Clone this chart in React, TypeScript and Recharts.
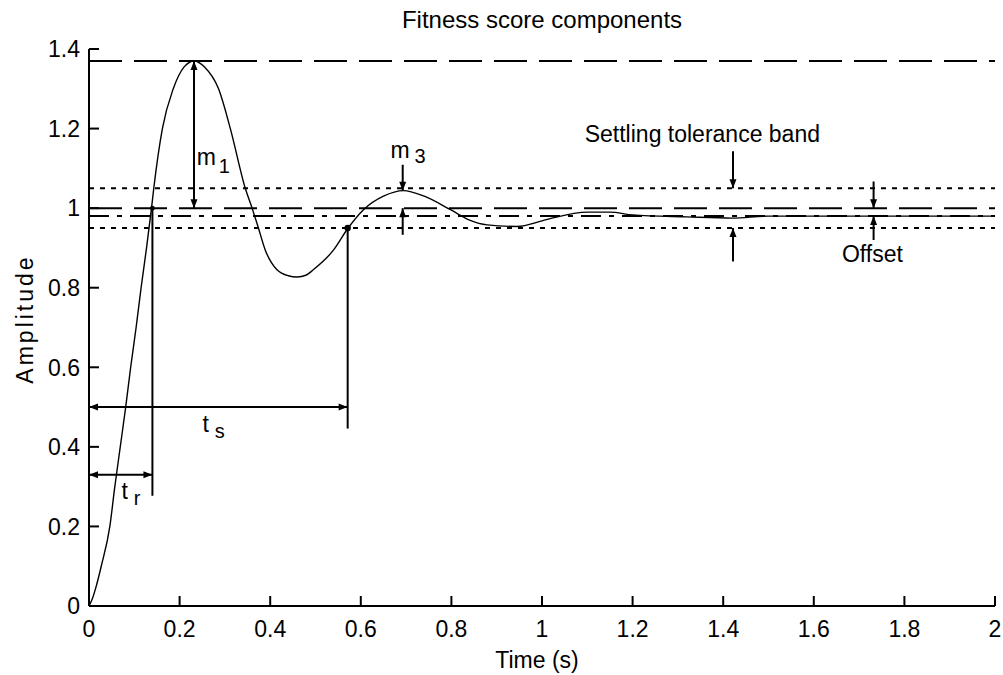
import React from 'react';
import { LineChart, Line, XAxis, YAxis, ReferenceLine, ReferenceDot } from 'recharts';

// ---- data ----
const timeValues = [
  0, 0.008, 0.016, 0.027, 0.046, 0.057, 0.069, 0.081, 0.092, 0.104, 0.115, 0.127, 0.138, 0.143,
  0.162, 0.186, 0.21, 0.232, 0.255, 0.286, 0.312, 0.345, 0.36, 0.374, 0.389, 0.415, 0.44, 0.459,
  0.48, 0.495, 0.54, 0.572, 0.606, 0.65, 0.694, 0.74, 0.798, 0.84, 0.879, 0.945, 1.0, 1.026, 1.1,
  1.15, 1.2, 1.32, 1.42, 1.5, 2.0,
];
const amplitudeValues = [
  0, 0.02, 0.05, 0.1, 0.2, 0.3, 0.4, 0.5, 0.6, 0.7, 0.8, 0.9, 1.0, 1.05,
  1.2, 1.3, 1.355, 1.37, 1.355, 1.3, 1.2, 1.05, 1.0, 0.95, 0.895, 0.845, 0.83, 0.827,
  0.832, 0.845, 0.895, 0.95, 0.996, 1.03, 1.044, 1.03, 0.996, 0.97, 0.958, 0.954, 0.968, 0.976, 0.99,
  0.99, 0.983, 0.978, 0.975, 0.98, 0.98,
];
const xTicks = [0, 0.2, 0.4, 0.6, 0.8, 1, 1.2, 1.4, 1.6, 1.8, 2];
const yTicks = [0, 0.2, 0.4, 0.6, 0.8, 1, 1.2, 1.4];
const xTickLabels = ['0', '0.2', '0.4', '0.6', '0.8', '1', '1.2', '1.4', '1.6', '1.8', '2'];
const yTickLabels = ['0', '0.2', '0.4', '0.6', '0.8', '1', '1.2', '1.4'];

const peakLevel = 1.37;
const referenceLevel = 1.0;
const finalLevel = 0.98;
const bandUpper = 1.05;
const bandLower = 0.95;
const riseTime = 0.14;
const riseArrowLevel = 0.33;
const riseLineBottom = 0.277;
const settlingTime = 0.571;
const settlingArrowLevel = 0.5;
const settlingLineBottom = 0.446;
const peakTime = 0.2318;
const secondPeakTime = 0.6925;
const secondPeak = 1.044;
const bandArrowTime = 1.4216;
const offsetArrowTime = 1.732;

const titleText = 'Fitness score components';
const xLabelText = 'Time (s)';
const yLabelText = 'Amplitude';

const chartData = timeValues.map((t, i) => ({ t, y: amplitudeValues[i] }));

const FONT = "'Liberation Sans', Arial, sans-serif";
const INK = '#000';

const BottomTick = (props: any) => {
  const { x, y, index } = props;
  return (
    <g>
      <line x1={x} x2={x} y1={y} y2={y - 10} stroke={INK} strokeWidth={2} />
      <text x={x} y={y + 31} textAnchor="middle" fontSize={23} fontFamily={FONT} fill={INK}>
        {xTickLabels[index]}
      </text>
    </g>
  );
};
const TopTick = (props: any) => {
  const { x, y } = props;
  return <line x1={x} x2={x} y1={y} y2={y + 10} stroke={INK} strokeWidth={2} />;
};
const LeftTick = (props: any) => {
  const { x, y, index } = props;
  return (
    <g>
      <line x1={x} x2={x + 10} y1={y} y2={y} stroke={INK} strokeWidth={2} />
      <text x={x - 9} y={y + 8.3} textAnchor="end" fontSize={23} fontFamily={FONT} fill={INK}>
        {yTickLabels[index]}
      </text>
    </g>
  );
};
const RightTick = (props: any) => {
  const { x, y } = props;
  return <line x1={x} x2={x - 10} y1={y} y2={y} stroke={INK} strokeWidth={2} />;
};

function arrowShape(startHead: boolean, endHead: boolean) {
  return (p: any) => {
    const { x1, y1, x2, y2 } = p;
    const dx = x2 - x1;
    const dy = y2 - y1;
    const len = Math.hypot(dx, dy) || 1;
    const ux = dx / len;
    const uy = dy / len;
    const L = 9;
    const W = 3.5;
    const head = (tx: number, ty: number, ax: number, ay: number) =>
      `M${tx},${ty} L${tx - ax * L - ay * W},${ty - ay * L + ax * W} L${tx - ax * L + ay * W},${ty - ay * L - ax * W} Z`;
    return (
      <g>
        <line x1={x1} y1={y1} x2={x2} y2={y2} stroke={INK} strokeWidth={2} />
        {endHead && <path d={head(x2, y2, ux, uy)} fill={INK} />}
        {startHead && <path d={head(x1, y1, -ux, -uy)} fill={INK} />}
      </g>
    );
  };
}

function labelShape(main: string, sub: string | null, anchor: 'start' | 'middle', subDx = 3, subDy = 7) {
  return (p: any) => (
    <text x={p.cx} y={p.cy} textAnchor={anchor} fontSize={23} fontFamily={FONT} fill={INK}>
      {main}
      {sub && (
        <tspan dx={subDx} dy={subDy} fontSize={20}>
          {sub}
        </tspan>
      )}
    </text>
  );
}

const dotShape = (r: number) => (p: any) => <circle cx={p.cx} cy={p.cy} r={r} fill={INK} />;

export default function App() {
  return (
    <div style={{ position: 'absolute', left: 0, top: 0, width: 1003, height: 675, background: '#fff' }}>
      <LineChart
        width={1003}
        height={675}
        data={chartData}
        margin={{ top: 49, right: 8, left: 0, bottom: 0 }}
      >
        <XAxis
          dataKey="t"
          type="number"
          domain={[0, 2]}
          ticks={xTicks}
          interval={0}
          height={69}
          tickSize={0}
          tickMargin={0}
          tickLine={false}
          axisLine={{ stroke: INK, strokeWidth: 2 }}
          tick={<BottomTick />}
          allowDataOverflow
        />
        <XAxis
          xAxisId="top"
          orientation="top"
          dataKey="t"
          type="number"
          domain={[0, 2]}
          ticks={xTicks}
          interval={0}
          height={0}
          tickSize={0}
          tickMargin={0}
          tickLine={false}
          axisLine={{ stroke: INK, strokeWidth: 2 }}
          tick={<TopTick />}
          allowDataOverflow
        />
        <YAxis
          type="number"
          domain={[0, 1.4]}
          ticks={yTicks}
          interval={0}
          width={89}
          tickSize={0}
          tickMargin={0}
          tickLine={false}
          axisLine={{ stroke: INK, strokeWidth: 2 }}
          tick={<LeftTick />}
          allowDataOverflow
        />
        <YAxis
          yAxisId="right"
          orientation="right"
          type="number"
          domain={[0, 1.4]}
          ticks={yTicks}
          interval={0}
          width={0}
          tickSize={0}
          tickMargin={0}
          tickLine={false}
          axisLine={{ stroke: INK, strokeWidth: 2 }}
          tick={<RightTick />}
          allowDataOverflow
        />

        <ReferenceLine y={peakLevel} stroke={INK} strokeWidth={2} strokeDasharray="33 12" />
        <ReferenceLine y={referenceLevel} stroke={INK} strokeWidth={2} strokeDasharray="33 12" />
        <ReferenceLine y={finalLevel} stroke={INK} strokeWidth={2} strokeDasharray="20 8 5 8" />
        <ReferenceLine y={bandUpper} stroke={INK} strokeWidth={2} strokeDasharray="5 6" />
        <ReferenceLine y={bandLower} stroke={INK} strokeWidth={2} strokeDasharray="5 6" />

        <Line
          dataKey="y"
          type="monotone"
          stroke={INK}
          strokeWidth={1.4}
          dot={false}
          activeDot={false}
          isAnimationActive={false}
        />

        {/* m1 */}
        <ReferenceLine
          segment={[{ x: peakTime, y: peakLevel }, { x: peakTime, y: referenceLevel }]}
          shape={arrowShape(true, true)}
        />
        {/* rise time */}
        <ReferenceLine
          segment={[{ x: riseTime, y: referenceLevel }, { x: riseTime, y: riseLineBottom }]}
          stroke={INK}
          strokeWidth={2}
        />
        <ReferenceLine
          segment={[{ x: 0, y: riseArrowLevel }, { x: riseTime, y: riseArrowLevel }]}
          shape={arrowShape(true, true)}
        />
        {/* settling time */}
        <ReferenceLine
          segment={[{ x: settlingTime, y: bandLower }, { x: settlingTime, y: settlingLineBottom }]}
          stroke={INK}
          strokeWidth={2}
        />
        <ReferenceLine
          segment={[{ x: 0, y: settlingArrowLevel }, { x: settlingTime, y: settlingArrowLevel }]}
          shape={arrowShape(true, true)}
        />
        {/* m3 */}
        <ReferenceLine
          segment={[{ x: secondPeakTime, y: 1.109 }, { x: secondPeakTime, y: secondPeak }]}
          shape={arrowShape(false, true)}
        />
        <ReferenceLine
          segment={[{ x: secondPeakTime, y: 0.933 }, { x: secondPeakTime, y: referenceLevel }]}
          shape={arrowShape(false, true)}
        />
        {/* settling tolerance band */}
        <ReferenceLine
          segment={[{ x: bandArrowTime, y: 1.143 }, { x: bandArrowTime, y: bandUpper }]}
          shape={arrowShape(false, true)}
        />
        <ReferenceLine
          segment={[{ x: bandArrowTime, y: 0.866 }, { x: bandArrowTime, y: bandLower }]}
          shape={arrowShape(false, true)}
        />
        {/* offset */}
        <ReferenceLine
          segment={[{ x: offsetArrowTime, y: 1.067 }, { x: offsetArrowTime, y: referenceLevel }]}
          shape={arrowShape(false, true)}
        />
        <ReferenceLine
          segment={[{ x: offsetArrowTime, y: 0.92 }, { x: offsetArrowTime, y: finalLevel }]}
          shape={arrowShape(false, true)}
        />

        <ReferenceDot x={settlingTime} y={bandLower} r={3.2} shape={dotShape(3.2)} />
        <ReferenceDot x={riseTime} y={referenceLevel} r={2.4} shape={dotShape(2.4)} />

        <ReferenceDot x={0.2377} y={1.1083} shape={labelShape('m', '1', 'start', 3, 8)} />
        <ReferenceDot x={0.6653} y={1.126} shape={labelShape('m', '3', 'start', 5, 5)} />
        <ReferenceDot x={0.2503} y={0.438} shape={labelShape('t', 's', 'start', 6, 6)} />
        <ReferenceDot x={0.0715} y={0.269} shape={labelShape('t', 'r', 'start', 6, 6)} />
        <ReferenceDot x={1.0943} y={1.167} shape={labelShape('Settling tolerance band', null, 'start')} />
        <ReferenceDot x={1.7294} y={0.8653} shape={labelShape('Offset', null, 'middle')} />
      </LineChart>
      <svg
        width={1003}
        height={675}
        style={{ position: 'absolute', left: 0, top: 0, pointerEvents: 'none' }}
      >
        <text x={542} y={28} textAnchor="middle" fontSize={24} fontFamily={FONT} fill={INK}>
          {titleText}
        </text>
        <text x={537} y={668} textAnchor="middle" fontSize={23} fontFamily={FONT} fill={INK}>
          {xLabelText}
        </text>
        <text
          x={33}
          y={319}
          textAnchor="middle"
          fontSize={23}
          fontFamily={FONT}
          fill={INK}
          letterSpacing={3}
          transform="rotate(-90 33 319)"
        >
          {yLabelText}
        </text>
      </svg>
    </div>
  );
}
